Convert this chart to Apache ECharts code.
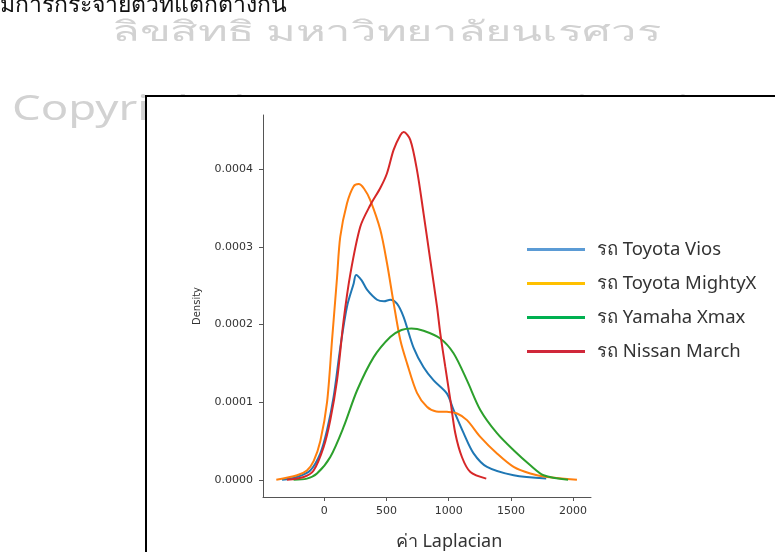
<!DOCTYPE html>
<html>
<head>
<meta charset="utf-8">
<script src="https://cdn.jsdelivr.net/npm/echarts@6/dist/echarts.min.js"></script>
<style>
  html, body { margin: 0; padding: 0; background: #fff; }
  #chart { width: 775px; height: 552px; }
</style>
</head>
<body>
<div id="chart"></div>
<script>
var seriesNames = ['รถ Toyota Vios', 'รถ Toyota MightyX', 'รถ Yamaha Xmax', 'รถ Nissan March'];

var viosX = [-340, -220, -113, -32, 22, 75, 129, 182, 236, 255, 300, 343, 424, 480, 530, 584, 637, 718, 798, 879, 986, 1039, 1120, 1200, 1308, 1522, 1784];
var viosY = [0, 0.0000036, 0.000012, 0.000034, 0.000064, 0.000107, 0.000171, 0.000223, 0.000253, 0.000264, 0.000257, 0.000245, 0.000232, 0.000230, 0.000232, 0.000227, 0.00021, 0.00017, 0.000145, 0.000128, 0.000111, 0.00009, 0.00006, 0.000034, 0.0000165, 0.0000058, 0.0000015];

var mightyX = [-386, -219, -140, -86, -32, 22, 62, 102, 128, 182, 235, 276, 320, 370, 450, 504, 557, 611, 665, 745, 825, 900, 986, 1067, 1147, 1254, 1388, 1522, 1656, 1790, 2031];
var mightyY = [0, 0.0000058, 0.000012, 0.000024, 0.00005, 0.0001, 0.00018, 0.00026, 0.000313, 0.000356, 0.000378, 0.000381, 0.000375, 0.00036, 0.000322, 0.000279, 0.000228, 0.00018, 0.00015, 0.000112, 0.000094, 0.000088, 0.0000875, 0.0000854, 0.0000768, 0.0000552, 0.0000338, 0.0000165, 0.000008, 0.0000036, 0];

var xmaxX = [-247, -140, -59, 48, 155, 263, 397, 530, 620, 700, 798, 932, 1039, 1147, 1254, 1388, 1522, 1656, 1763, 1960];
var xmaxY = [0, 0.0000015, 0.000008, 0.0000294, 0.000068, 0.000115, 0.000158, 0.000184, 0.000193, 0.000195, 0.000192, 0.000182, 0.000163, 0.000128, 0.00009, 0.00006, 0.000038, 0.0000187, 0.0000058, 0];

var marchX = [-300, -166, -86, -6, 48, 102, 155, 209, 289, 370, 450, 504, 557, 611, 638, 691, 745, 798, 852, 906, 932, 972, 1013, 1053, 1107, 1174, 1302];
var marchY = [0, 0.0000036, 0.000012, 0.000042, 0.000077, 0.000128, 0.000205, 0.000265, 0.000326, 0.000354, 0.000376, 0.000395, 0.000425, 0.000444, 0.000448, 0.000438, 0.000399, 0.000343, 0.000283, 0.000223, 0.000189, 0.000146, 0.000103, 0.00006, 0.000029, 0.00001, 0.0000015];

var xTicks = [0, 500, 1000, 1500, 2000];
var yTicks = [0, 0.0001, 0.0002, 0.0003, 0.0004];

var lineColors = ['#1f77b4', '#ff7f0e', '#2ca02c', '#d62728'];
var legendColors = ['#5b9bd5', '#ffc000', '#00b050', '#d0283a'];

function pairs(xs, ys) {
  return xs.map(function (x, i) { return [x, ys[i]]; });
}

var curves = [pairs(viosX, viosY), pairs(mightyX, mightyY), pairs(xmaxX, xmaxY), pairs(marchX, marchY)];

var chart = echarts.init(document.getElementById('chart'));

var option = {
  animation: false,
  backgroundColor: '#fff',
  graphic: [
    // page text and watermark behind the framed figure
    {
      type: 'text', left: 0, top: -6, z: -3,
      style: { text: 'มีการกระจายตัวที่แตกต่างกัน', fill: '#111', font: '23px "Noto Sans", sans-serif' }
    },
    {
      type: 'text', x: 112, y: 19, scaleX: 1.62, z: -3,
      style: { text: 'ลิขสิทธิ มหาวิทยาลัยนเรศวร', fill: '#d2d2d2', font: '28px "Noto Sans", sans-serif' }
    },
    {
      type: 'text', x: 12, y: 93, scaleX: 1.3, z: -3,
      style: { text: 'Copyright by Naresuan University', fill: '#d2d2d2', font: '35px "Noto Sans", sans-serif' }
    },
    {
      type: 'rect', z: -2,
      shape: { x: 146, y: 96, width: 640, height: 470 },
      style: { fill: '#fff', stroke: '#000', lineWidth: 2 }
    }
  ],
  grid: { left: 263, right: 184, top: 115, bottom: 55, containLabel: false, outerBoundsMode: 'none' },
  legend: {
    orient: 'vertical',
    left: 527,
    top: 240,
    padding: 0,
    itemWidth: 58,
    itemHeight: 3,
    itemGap: 15,
    selectedMode: false,
    icon: 'rect',
    textStyle: { fontSize: 18.5, color: '#333', fontFamily: '"Noto Sans", sans-serif', padding: [0, 0, 0, 7] },
    data: seriesNames.map(function (n, i) {
      return { name: n, itemStyle: { color: legendColors[i] }, lineStyle: { color: legendColors[i], width: 0 } };
    })
  },
  xAxis: {
    type: 'value',
    min: -493,
    max: 2144,
    name: 'ค่า Laplacian',
    nameLocation: 'middle',
    nameGap: 36,
    nameTextStyle: { fontSize: 18, color: '#333', fontFamily: '"Noto Sans", sans-serif', padding: [0, 0, 0, 44] },
    axisLine: { show: true, onZero: false, lineStyle: { color: '#555', width: 1 } },
    axisTick: { show: true, length: 4, customValues: xTicks, lineStyle: { color: '#555' } },
    axisLabel: {
      customValues: xTicks, color: '#333', fontSize: 11, fontFamily: 'DejaVu Sans', margin: 9,
      formatter: function (v) { return String(v); }
    },
    splitLine: { show: false }
  },
  yAxis: {
    type: 'value',
    min: -0.0000222,
    max: 0.00047,
    name: 'Density',
    nameLocation: 'middle',
    nameGap: 61,
    nameTextStyle: { fontSize: 10, color: '#333', fontFamily: 'DejaVu Sans' },
    axisLine: { show: true, onZero: false, lineStyle: { color: '#555', width: 1 } },
    axisTick: { show: true, length: 4, customValues: yTicks, lineStyle: { color: '#555' } },
    axisLabel: {
      customValues: yTicks, color: '#333', fontSize: 11, fontFamily: 'DejaVu Sans', margin: 10,
      formatter: function (v) { return v.toFixed(4); }
    },
    splitLine: { show: false }
  },
  series: curves.map(function (d, i) {
    return {
      name: seriesNames[i],
      type: 'line',
      data: d,
      smooth: 0.3,
      showSymbol: false,
      symbol: 'none',
      lineStyle: { color: lineColors[i], width: 2 },
      itemStyle: { color: lineColors[i] }
    };
  })
};

chart.setOption(option);
</script>
</body>
</html>
